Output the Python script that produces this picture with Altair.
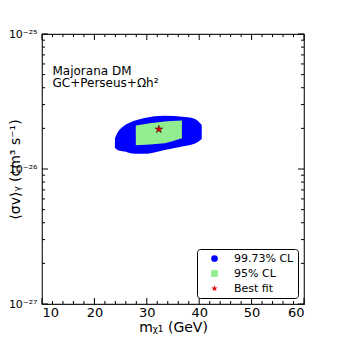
import altair as alt
import pandas as pd

# 99.73% CL region (blue): mass, lower and upper <sigma v>
blue_mass = [24.2, 24.6, 25.8, 27.7, 29.6, 33.4, 37.2, 39.1, 40.2]
blue_lo = [1.45e-26, 1.41e-26, 1.38e-26, 1.33e-26, 1.33e-26, 1.42e-26, 1.52e-26, 1.58e-26, 1.69e-26]
blue_hi = [1.68e-26, 1.82e-26, 2.04e-26, 2.22e-26, 2.33e-26, 2.42e-26, 2.37e-26, 2.29e-26, 2.10e-26]

# 95% CL region (green)
green_mass = [27.9, 30.6, 33.4, 34.7, 36.7]
green_lo = [1.50e-26, 1.52e-26, 1.55e-26, 1.60e-26, 1.69e-26]
green_hi = [2.10e-26, 2.18e-26, 2.25e-26, 2.27e-26, 2.29e-26]

# best fit
best_mass = [32.3]
best_sv = [1.97e-26]

labels = ["99.73% CL", "95% CL", "Best fit"]
colors = ["#0000ff", "#90ee90", "#dd0000"]
STAR = ("M0,-1L0.2245,-0.309L0.951,-0.309L0.363,0.118L0.588,0.809L0,0.382"
        "L-0.588,0.809L-0.363,0.118L-0.951,-0.309L-0.2245,-0.309Z")
shapes = ["circle", "square", STAR]

ann_text = ["Majorana DM", "GC+Perseus+Ωh²"]
ann_mass = [12.0, 12.0]
ann_sv = [5.3e-26, 4.30e-26]

x_major = [10, 20, 30, 40, 50, 60]
x_minor = [12, 14, 16, 18, 22, 24, 26, 28, 32, 34, 36, 38, 42, 44, 46, 48, 52, 54, 56, 58]
y_major = [1e-27, 1e-26, 1e-25]
y_minor = [k * 1e-27 for k in range(2, 10)] + [k * 1e-26 for k in range(2, 10)]

W, H = 262, 270
FONT = "DejaVu Sans"

XD = [10, 60]
YD = [1e-27, 1e-25]

def xsc():
    return alt.Scale(domain=XD, nice=False, zero=False)

def ysc():
    return alt.Scale(type="log", domain=YD, nice=False)

blue_df = pd.DataFrame({"m": blue_mass, "lo": blue_lo, "hi": blue_hi, "label": [labels[0]] * len(blue_mass)})
green_df = pd.DataFrame({"m": green_mass, "lo": green_lo, "hi": green_hi, "label": [labels[1]] * len(green_mass)})
best_df = pd.DataFrame({"m": best_mass, "sv": best_sv, "label": [labels[2]]})
ann_df = pd.DataFrame({"m": ann_mass, "sv": ann_sv, "t": ann_text})

y_label_expr = "datum.value >= 9e-26 ? '10⁻²⁵' : (datum.value >= 9e-27 ? '10⁻²⁶' : '10⁻²⁷')"

x_axis = alt.Axis(
    orient="bottom", values=x_major, title="mᵪ₁ (GeV)", grid=False, ticks=False, domain=False,
    labelFontSize=13, labelFont=FONT, labelPadding=2, labelColor="black",
    titleFont=FONT, titleFontSize=14, titleFontWeight="normal", titleColor="black",
    titleY=23, titleBaseline="middle")
y_axis = alt.Axis(
    orient="left", values=y_major, labelExpr=y_label_expr, title="⟨σv⟩ᵧ (cm³ s⁻¹)", grid=False,
    ticks=False, domain=False, labelFontSize=11, labelFont=FONT,
    labelPadding=5, labelColor="black",
    titleFont=FONT, titleFontSize=14, titleFontWeight="normal", titleColor="black",
    titleX=-27, titleY=H / 2, titleBaseline="middle", titleAngle=270, titleAlign="center")

blue = alt.Chart(blue_df).mark_area(
    color="#0000ff", stroke="#0000ff", strokeWidth=3, strokeJoin="round", interpolate="monotone"
).encode(
    x=alt.X("m:Q", scale=xsc(), axis=x_axis),
    y=alt.Y("hi:Q", scale=ysc(), axis=y_axis, stack=None),
    y2="lo:Q",
)

green = alt.Chart(green_df).mark_area(color="#90ee90").encode(
    x=alt.X("m:Q", scale=xsc()),
    y=alt.Y("hi:Q", scale=ysc(), stack=None),
    y2="lo:Q",
)

leg = dict(
    title=None, orient="bottom-right", offset=6,
    strokeColor="black", fillColor="white", cornerRadius=3, padding=4,
    labelFont=FONT, labelFontSize=11, labelColor="black",
    rowPadding=3, symbolSize=45, symbolOffset=8, labelOffset=14, labelLimit=200,
    symbolStrokeWidth=0)

best = alt.Chart(best_df).mark_point(filled=True, size=70, stroke="#400000", strokeWidth=0.5, opacity=1).encode(
    x=alt.X("m:Q", scale=xsc()),
    y=alt.Y("sv:Q", scale=ysc()),
    color=alt.Color("label:N", scale=alt.Scale(domain=labels, range=colors), legend=alt.Legend(**leg)),
    shape=alt.Shape("label:N", scale=alt.Scale(domain=labels, range=shapes), legend=alt.Legend(**leg)),
)

ann = alt.Chart(ann_df).mark_text(align="left", baseline="middle", font=FONT, fontSize=12, color="black").encode(
    x=alt.X("m:Q", scale=xsc()),
    y=alt.Y("sv:Q", scale=ysc()),
    text="t:N",
)

def xticks(vals, length):
    df = pd.DataFrame({"v": vals})
    bot = alt.Chart(df).mark_rule(color="black", strokeWidth=1).encode(
        x=alt.X("v:Q", scale=xsc()), y=alt.value(H), y2=alt.value(H - length))
    top = alt.Chart(df).mark_rule(color="black", strokeWidth=1).encode(
        x=alt.X("v:Q", scale=xsc()), y=alt.value(0), y2=alt.value(length))
    return [bot, top]

def yticks(vals, length):
    df = pd.DataFrame({"v": vals})
    left = alt.Chart(df).mark_rule(color="black", strokeWidth=1).encode(
        y=alt.Y("v:Q", scale=ysc()), x=alt.value(0), x2=alt.value(length))
    right = alt.Chart(df).mark_rule(color="black", strokeWidth=1).encode(
        y=alt.Y("v:Q", scale=ysc()), x=alt.value(W), x2=alt.value(W - length))
    return [left, right]

tick_layers = xticks(x_major, 6) + xticks(x_minor, 3) + yticks(y_major, 6) + yticks(y_minor, 3)

chart = alt.layer(blue, green, best, ann, *tick_layers).properties(
    width=W, height=H,
    autosize=alt.AutoSizeParams(type="none"),
    padding={"left": 34, "top": 26, "right": 26, "bottom": 32},
).configure_view(stroke="#222222", strokeWidth=1.2)

chart.save("out.html", embed_options={"renderer": "svg", "actions": False})
